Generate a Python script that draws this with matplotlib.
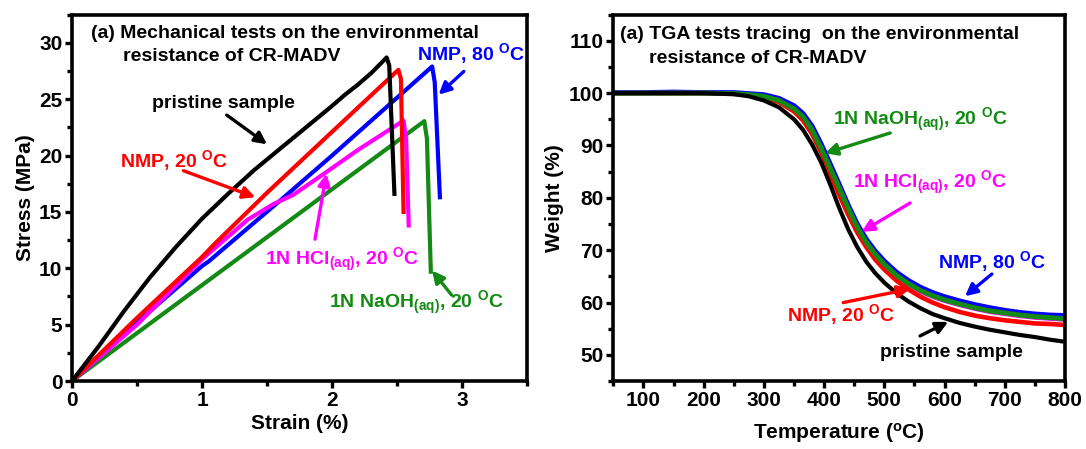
import matplotlib
matplotlib.use("Agg")
import matplotlib.pyplot as plt
from matplotlib.ticker import MultipleLocator

plt.rcParams['font.family'] = ['Liberation Sans', 'DejaVu Sans']
plt.rcParams['font.weight'] = 'bold'
plt.rcParams['mathtext.fontset'] = 'custom'
plt.rcParams['mathtext.rm'] = 'Liberation Sans:bold'
plt.rcParams['mathtext.bf'] = 'Liberation Sans:bold'
plt.rcParams['mathtext.it'] = 'Liberation Sans:bold'

# ---------------- Mechanical test data (strain %, stress MPa) ----------------
pristine_strain = [0, 0.2, 0.4, 0.6, 0.8, 1.0, 1.2, 1.4, 1.6, 1.8, 2.0, 2.1, 2.2, 2.3, 2.42, 2.44, 2.48]
pristine_stress = [0, 3.0, 6.2, 9.2, 11.9, 14.4, 16.6, 18.7, 20.6, 22.5, 24.4, 25.4, 26.3, 27.3, 28.7, 28.0, 16.6]

nmp20_strain = [0, 0.5, 1.0, 1.1, 1.5, 2.0, 2.51, 2.53, 2.55]
nmp20_stress = [0, 5.6, 11.0, 12.2, 16.7, 22.1, 27.6, 26.8, 15.0]

nmp80_strain = [0, 0.5, 1.0, 1.05, 1.6, 2.0, 2.77, 2.79, 2.83]
nmp80_stress = [0, 5.2, 10.2, 10.6, 16.0, 20.0, 27.9, 26.5, 16.3]

hcl_strain = [0, 0.5, 1.0, 1.35, 1.55, 1.7, 1.94, 2.2, 2.55, 2.57, 2.59]
hcl_stress = [0, 5.0, 10.8, 14.3, 15.7, 16.5, 18.4, 20.5, 23.1, 21.5, 13.8]

naoh_strain = [0, 2.71, 2.73, 2.76]
naoh_stress = [0, 23.05, 21.5, 9.7]

# ---------------- TGA data (temperature C, weight %) ----------------
temperature = [50, 100, 150, 200, 250, 275, 300, 325, 350, 365, 380, 395, 410, 425, 440, 455,
               470, 485, 500, 520, 540, 560, 580, 600, 625, 650, 675, 700, 725, 750, 775, 800]
w_pristine = [100, 100, 100, 100, 99.8, 99.4, 98.6, 97.3, 95.0, 93.0, 90.2, 86.8, 82.6, 78.1, 74.0, 70.6,
              67.8, 65.6, 63.8, 61.8, 60.2, 58.9, 57.8, 57.0, 56.1, 55.4, 54.8, 54.3, 53.8, 53.4, 52.9, 52.5]
w_nmp20 = [100, 100, 100, 100, 99.9, 99.6, 99.2, 98.3, 96.5, 94.8, 92.2, 88.7, 84.6, 80.6, 76.8, 73.4,
           70.6, 68.2, 66.3, 64.2, 62.5, 61.1, 60.0, 59.1, 58.2, 57.5, 57.0, 56.6, 56.3, 56.0, 55.9, 55.7]
w_nmp80 = [100.1, 100.1, 100.2, 100.1, 100.1, 99.9, 99.7, 99.0, 97.6, 96.1, 93.7, 90.3, 86.5, 82.6, 78.6, 75.0,
           72.1, 69.8, 67.9, 65.8, 64.2, 62.9, 61.9, 61.1, 60.3, 59.6, 59.0, 58.5, 58.1, 57.8, 57.6, 57.5]
w_hcl = [100, 100, 100, 100, 99.9, 99.7, 99.3, 98.5, 96.9, 95.3, 92.8, 89.3, 85.4, 81.6, 77.8, 74.2,
         71.3, 69.0, 67.1, 65.0, 63.4, 62.1, 61.1, 60.3, 59.5, 58.8, 58.2, 57.8, 57.4, 57.1, 56.9, 56.7]
w_naoh = [100, 100, 100, 100, 99.9, 99.7, 99.4, 98.6, 97.0, 95.5, 93.0, 89.5, 85.7, 81.9, 78.0, 74.4,
          71.5, 69.2, 67.3, 65.2, 63.6, 62.3, 61.3, 60.5, 59.7, 59.0, 58.4, 58.0, 57.6, 57.3, 57.1, 56.9]

BLACK = '#000000'
RED = '#FF0000'
BLUE = '#0000FF'
MAGENTA = '#FF00FF'
GREEN = '#138A13'

LW = 3.0
FS = 14
TICK_FS = 15
LABEL_FS = 15

fig = plt.figure(figsize=(10.86, 4.49), dpi=100)
ax1 = fig.add_axes([0.0663, 0.1514, 0.419, 0.816])
ax2 = fig.add_axes([0.5647, 0.1514, 0.416, 0.816])


def style(ax):
    for s in ax.spines.values():
        s.set_linewidth(2.6)
    ax.tick_params(which='major', direction='out', length=5, width=2.4, labelsize=TICK_FS, pad=2)
    ax.tick_params(which='minor', direction='out', length=3.5, width=2.4)
    ax.tick_params(top=False, right=False, which='both')
    for lab in ax.get_xticklabels() + ax.get_yticklabels():
        lab.set_fontweight('bold')


arrow = lambda c: dict(arrowstyle='-|>', color=c, lw=2.4, mutation_scale=18, shrinkA=0, shrinkB=0)

# ---------------- Left panel ----------------
ax1.plot(naoh_strain, naoh_stress, color=GREEN, lw=LW)
ax1.plot(nmp80_strain, nmp80_stress, color=BLUE, lw=LW)
ax1.plot(hcl_strain, hcl_stress, color=MAGENTA, lw=LW)
ax1.plot(nmp20_strain, nmp20_stress, color=RED, lw=LW)
ax1.plot(pristine_strain, pristine_stress, color=BLACK, lw=LW)
ax1.set_xlim(0, 3.5)
ax1.set_ylim(0, 32.5)
ax1.xaxis.set_major_locator(MultipleLocator(1))
ax1.xaxis.set_minor_locator(MultipleLocator(0.5))
ax1.yaxis.set_major_locator(MultipleLocator(5))
ax1.yaxis.set_minor_locator(MultipleLocator(2.5))
style(ax1)
ax1.set_xlabel('Strain (%)', fontsize=LABEL_FS, fontweight='bold', labelpad=3)
ax1.set_ylabel('Stress (MPa)', fontsize=LABEL_FS, fontweight='bold', labelpad=3)

t = ax1.transAxes
ax1.text(0.041, 0.949, '(a) Mechanical tests on the environmental', transform=t,
         fontsize=FS, fontweight='bold', ha='left', va='center')
ax1.text(0.112, 0.885, 'resistance of CR-MADV', transform=t,
         fontsize=FS, fontweight='bold', ha='left', va='center')

ax1.text(0.176, 0.758, 'pristine sample', transform=t, fontsize=FS, fontweight='bold',
         ha='left', va='center', color=BLACK)
ax1.annotate('', xy=(1.50, 21.0), xycoords='data', xytext=(0.34, 0.726), textcoords='axes fraction',
             arrowprops=arrow(BLACK))

ax1.text(0.106, 0.603, r'NMP, 20 $^{\mathbf{O}}$C', transform=t, fontsize=FS, fontweight='bold',
         ha='left', va='center', color=RED)
ax1.annotate('', xy=(1.41, 16.3), xycoords='data', xytext=(0.245, 0.574), textcoords='axes fraction',
             arrowprops=arrow(RED))

ax1.text(0.758, 0.895, r'NMP, 80 $^{\mathbf{O}}$C', transform=t, fontsize=FS, fontweight='bold',
         ha='left', va='center', color=BLUE)
ax1.annotate('', xy=(2.82, 25.4), xycoords='data', xytext=(0.861, 0.845), textcoords='axes fraction',
             arrowprops=arrow(BLUE))

ax1.text(0.424, 0.330, r'1N HCl$_{\mathbf{(aq)}}$, 20 $^{\mathbf{O}}$C', transform=t, fontsize=FS,
         fontweight='bold', ha='left', va='center', color=MAGENTA)
ax1.annotate('', xy=(1.957, 18.4), xycoords='data', xytext=(0.534, 0.387), textcoords='axes fraction',
             arrowprops=arrow(MAGENTA))

ax1.text(0.564, 0.212, r'1N NaOH$_{\mathbf{(aq)}}$, 20 $^{\mathbf{O}}$C', transform=t, fontsize=FS,
         fontweight='bold', ha='left', va='center', color=GREEN)
ax1.annotate('', xy=(2.77, 9.8), xycoords='data', xytext=(0.834, 0.235), textcoords='axes fraction',
             arrowprops=arrow(GREEN))

# ---------------- Right panel ----------------
ax2.plot(temperature, w_nmp80, color=BLUE, lw=LW + 0.6)
ax2.plot(temperature, w_hcl, color=MAGENTA, lw=LW)
ax2.plot(temperature, w_nmp20, color=RED, lw=LW + 0.3)
ax2.plot(temperature, w_naoh, color=GREEN, lw=LW + 0.6)
ax2.plot(temperature, w_pristine, color=BLACK, lw=LW)
ax2.set_xlim(50, 800)
ax2.set_ylim(45, 115)
ax2.xaxis.set_major_locator(MultipleLocator(100))
ax2.xaxis.set_minor_locator(MultipleLocator(50))
ax2.yaxis.set_major_locator(MultipleLocator(10))
ax2.yaxis.set_minor_locator(MultipleLocator(5))
ax2.set_xticks([100, 200, 300, 400, 500, 600, 700, 800])
style(ax2)
ax2.set_xlabel(r'Temperature ($^{\rm o}$C)', fontsize=LABEL_FS, fontweight='bold', labelpad=8)
ax2.set_ylabel('Weight (%)', fontsize=LABEL_FS, fontweight='bold', labelpad=3)

t2 = ax2.transAxes
ax2.text(0.015, 0.945, '(a) TGA tests tracing  on the environmental', transform=t2,
         fontsize=FS, fontweight='bold', ha='left', va='center')
ax2.text(0.078, 0.879, 'resistance of CR-MADV', transform=t2,
         fontsize=FS, fontweight='bold', ha='left', va='center')

ax2.text(0.487, 0.713, r'1N NaOH$_{\mathbf{(aq)}}$, 20 $^{\mathbf{O}}$C', transform=t2, fontsize=FS,
         fontweight='bold', ha='left', va='center', color=GREEN)
ax2.annotate('', xy=(401.5, 88.5), xycoords='data', xytext=(0.613, 0.677), textcoords='axes fraction',
             arrowprops=arrow(GREEN))

ax2.text(0.531, 0.541, r'1N HCl$_{\mathbf{(aq)}}$, 20 $^{\mathbf{O}}$C', transform=t2, fontsize=FS,
         fontweight='bold', ha='left', va='center', color=MAGENTA)
ax2.annotate('', xy=(462.4, 73.5), xycoords='data', xytext=(0.657, 0.486), textcoords='axes fraction',
             arrowprops=arrow(MAGENTA))

ax2.text(0.719, 0.327, r'NMP, 80 $^{\mathbf{O}}$C', transform=t2, fontsize=FS, fontweight='bold',
         ha='left', va='center', color=BLUE)
ax2.annotate('', xy=(633.9, 61.2), xycoords='data', xytext=(0.838, 0.292), textcoords='axes fraction',
             arrowprops=arrow(BLUE))

ax2.text(0.384, 0.182, r'NMP, 20 $^{\mathbf{O}}$C', transform=t2, fontsize=FS, fontweight='bold',
         ha='left', va='center', color=RED)
ax2.annotate('', xy=(542.6, 62.6), xycoords='data', xytext=(0.509, 0.214), textcoords='axes fraction',
             arrowprops=arrow(RED))

ax2.text(0.59, 0.078, 'pristine sample', transform=t2, fontsize=FS, fontweight='bold',
         ha='left', va='center', color=BLACK)
ax2.annotate('', xy=(606, 56.3), xycoords='data', xytext=(0.679, 0.123), textcoords='axes fraction',
             arrowprops=arrow(BLACK))

fig.savefig('out.png', dpi=100)
